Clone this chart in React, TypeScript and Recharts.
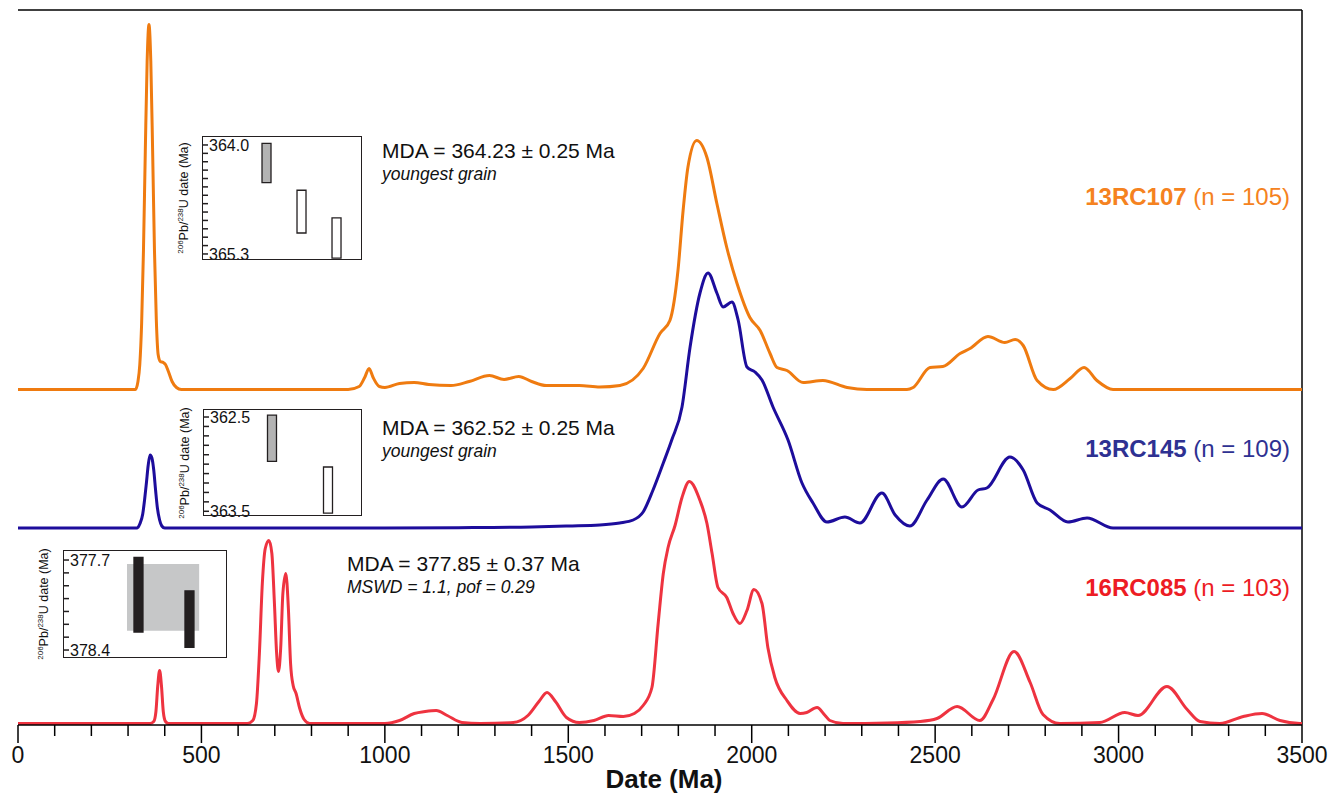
import { Bar, Cell, ComposedChart, Line, ReferenceArea, ReferenceLine, XAxis, YAxis } from "recharts";

// probability density curves: [date (Ma), relative density]
const sample13RC107: [number, number][] = [
  [0, 0], [300, 0], [320, 0], [327, 8], [332, 25], [337, 66], [342, 139], [347, 238], [352, 328], [357, 365], [362, 328],
  [367, 238], [372, 139], [377, 70], [382, 35], [388, 28], [396, 27], [402, 25], [410, 18], [420, 8], [432, 2], [445, 0],
  [900, 0], [930, 3], [945, 12], [957, 21], [968, 12], [985, 3], [1000, 2], [1040, 6], [1080, 7], [1120, 5], [1180, 4],
  [1230, 8], [1285, 14], [1325, 10], [1365, 13], [1400, 8], [1440, 4], [1480, 4], [1530, 4], [1586, 2.5], [1641, 4],
  [1704, 21], [1750, 56], [1777, 69], [1799, 119], [1813, 179], [1826, 222], [1850, 249], [1878, 232], [1905, 186],
  [1932, 142], [1960, 106], [1995, 72], [2023, 59], [2050, 36], [2069, 22], [2096, 19], [2140, 7], [2194, 9], [2260, 2],
  [2314, 0], [2423, 0], [2440, 2], [2486, 22], [2521, 23], [2568, 36], [2595, 41], [2644, 53], [2690, 47], [2718, 50],
  [2740, 44], [2778, 9], [2822, 0], [2868, 11], [2906, 22], [2941, 9], [2985, 0], [3500, 0],
];

const sample13RC145: [number, number][] = [
  [0, 0], [325, 0], [332, 4], [340, 14], [345, 28], [350, 45], [355, 63], [360, 73], [365, 70], [370, 58], [375, 38],
  [380, 20], [386, 8], [392, 2], [400, 0], [1000, 0], [1200, 0.3], [1400, 1], [1500, 2], [1586, 3], [1640, 5], [1677, 8],
  [1704, 16], [1731, 38], [1759, 65], [1782, 88], [1810, 121], [1832, 181], [1859, 235], [1881, 255], [1905, 235],
  [1922, 221], [1946, 226], [1963, 208], [1987, 161], [2009, 156], [2028, 148], [2058, 121], [2099, 88], [2137, 45],
  [2167, 25], [2205, 6], [2254, 11], [2295, 5], [2355, 35], [2391, 13], [2431, 2], [2478, 28], [2522, 49], [2573, 21],
  [2617, 38], [2641, 40], [2704, 71], [2740, 58], [2778, 25], [2813, 18], [2862, 6], [2914, 10], [2985, 0], [3500, 0],
];

const sample16RC085: [number, number][] = [
  [0, 0], [360, 0], [370, 2], [376, 12], [381, 38], [386, 53], [391, 38], [396, 12], [402, 2], [410, 0], [625, 0],
  [640, 3], [650, 20], [658, 70], [666, 140], [674, 175], [684, 183], [692, 170], [699, 120], [705, 70], [710, 52],
  [716, 75], [722, 130], [730, 150], [737, 115], [743, 60], [750, 38], [758, 30], [768, 15], [780, 4], [795, 0],
  [1000, 0], [1040, 3], [1080, 10], [1110, 12], [1140, 13], [1170, 8], [1210, 1], [1260, 0], [1350, 1], [1390, 8],
  [1420, 22], [1442, 31], [1465, 22], [1495, 6], [1530, 1], [1570, 3], [1610, 8], [1650, 7], [1680, 10], [1704, 18],
  [1728, 36], [1745, 100], [1759, 150], [1772, 176], [1791, 198], [1810, 226], [1830, 242], [1859, 223], [1878, 200],
  [1892, 170], [1908, 136], [1932, 126], [1949, 110], [1968, 100], [1987, 113], [2006, 134], [2028, 120], [2044, 76],
  [2063, 46], [2096, 23], [2132, 10], [2150, 11], [2178, 16], [2200, 8], [2213, 3], [2249, 0], [2369, 0.5], [2459, 2],
  [2505, 5], [2560, 17], [2622, 3], [2658, 24], [2715, 72], [2759, 41], [2794, 9], [2840, 0], [2949, 1], [3017, 11],
  [3053, 8], [3132, 37], [3187, 14], [3222, 2], [3276, 0], [3340, 7], [3391, 10], [3440, 3], [3495, 0], [3500, 0],
];

// youngest grains shown in the insets: [rank, young edge, old edge]
const grains13RC107: [number, number, number][] = [[1, 363.98, 364.45], [2, 364.54, 365.05], [3, 364.87, 365.35]];
const grains13RC145: [number, number, number][] = [[1, 362.48, 362.97], [2, 363.03, 363.52]];
const grains16RC085: [number, number, number][] = [[1, 377.68, 378.26], [2, 377.94, 378.38]];

const ticks13RC107 = [364.0, 364.1, 364.2, 364.3, 364.4, 364.5, 364.6, 364.7, 364.8, 364.9, 365.0, 365.1, 365.2, 365.3];
const ticks13RC145 = [362.5, 362.6, 362.7, 362.8, 362.9, 363.0, 363.1, 363.2, 363.3, 363.4, 363.5];
const ticks16RC085 = [377.7, 377.8, 377.9, 378.0, 378.1, 378.2, 378.3, 378.4];
const weightedMean16RC085 = [377.73, 378.25];

const ageTicks = Array.from({ length: 36 }, (_, i) => i * 100);

const font = '"Liberation Sans", Arial, Helvetica, sans-serif';
const ORANGE = "#ef7b10";
const BLUE = "#1d0d9c";
const RED = "#ee3340";

const stack = (pts: [number, number][], base: number) => pts.map(([ma, d]) => ({ ma, y: d + base }));

const AgeTick = ({ x, y, payload }: any) => {
  const major = payload.value % 500 === 0;
  return (
    <g>
      <line x1={x} x2={x} y1={y} y2={y + (major ? 18 : 11)} stroke="#000" strokeWidth={1.5} />
      {major && <text x={x} y={y + 38} textAnchor="middle" fontSize={23} fontFamily={font} fill="#111">{payload.value}</text>}
    </g>
  );
};

type InsetProps = {
  left: number; top: number; width: number; height: number; labelX: number;
  grains: [number, number, number][]; xDomain: [number, number]; yDomain: [number, number];
  ticks: number[]; fills: string[]; band?: number[]; bandX?: [number, number];
};

const Inset = ({ left, top, width, height, labelX, grains, xDomain, yDomain, ticks, fills, band, bandX }: InsetProps) => {
  const rows = grains.map(([rank, young, old]) => ({ rank, range: [old, young] }));
  const ends = [ticks[0], ticks[ticks.length - 1]];
  return (
    <>
      <div style={{ position: "absolute", left, top, width, height }}>
        <ComposedChart width={width} height={height} data={rows} margin={{ top: 0, right: 0, bottom: 0, left: 0 }}>
          <XAxis type="number" dataKey="rank" domain={xDomain} allowDataOverflow hide />
          <YAxis type="number" domain={yDomain} reversed allowDataOverflow mirror ticks={ticks} interval={0}
            axisLine={false} tickSize={6} tickMargin={1} tickLine={{ stroke: "#231f20", strokeWidth: 1.5 }}
            tick={{ fontSize: 16, fill: "#111", fontFamily: font }}
            tickFormatter={(v: number) => (ends.includes(v) ? v.toFixed(1) : "")} />
          {band && bandX && <ReferenceArea x1={bandX[0]} x2={bandX[1]} y1={band[0]} y2={band[1]} fill="#c6c7c8" fillOpacity={1} stroke="none" />}
          <Bar dataKey="range" barSize={9} stroke="#231f20" strokeWidth={1.3} isAnimationActive={false}>
            {rows.map((r, i) => <Cell key={r.rank} fill={fills[i]} />)}
          </Bar>
        </ComposedChart>
        <div style={{ position: "absolute", inset: 0, border: "1.5px solid #231f20", pointerEvents: "none" }} />
      </div>
      <div style={{ position: "absolute", left: labelX, top: top + height / 2, transform: "translate(-50%, -50%) rotate(-90deg)", whiteSpace: "nowrap", fontSize: 12.5, fontFamily: font, color: "#111", lineHeight: 1 }}>
        <sup style={{ fontSize: 8 }}>206</sup>Pb/<sup style={{ fontSize: 8 }}>238</sup>U date (Ma)
      </div>
    </>
  );
};

const Note = ({ left, top, main, sub, size = 21, subSize = 17.5 }: { left: number; top: number; main: string; sub: string; size?: number; subSize?: number }) => (
  <div style={{ position: "absolute", left, top, fontFamily: font, color: "#111", whiteSpace: "nowrap" }}>
    <div style={{ fontSize: size, lineHeight: 1 }}>{main}</div>
    <div style={{ fontSize: subSize, lineHeight: 1, fontStyle: "italic", marginTop: 5 }}>{sub}</div>
  </div>
);

const SampleLabel = ({ top, name, n, color }: { top: number; name: string; n: number; color: string }) => (
  <div style={{ position: "absolute", right: 1333 - 1290, top, fontFamily: font, fontSize: 24, lineHeight: 1, color, whiteSpace: "nowrap" }}>
    <b>{name}</b> (n = {n})
  </div>
);

export default function App() {
  return (
    <div style={{ position: "absolute", left: 0, top: 0, width: 1333, height: 798, background: "#fff", fontFamily: font }}>
      <style>{`.recharts-surface { overflow: visible; }`}</style>
      <ComposedChart width={1333} height={798} margin={{ top: 10, right: 31, bottom: 0, left: 18 }}>
        <XAxis type="number" dataKey="ma" domain={[0, 3500]} ticks={ageTicks} interval={0} height={73}
          axisLine={{ stroke: "#000", strokeWidth: 1.5 }} tickLine={false} tickSize={0} tickMargin={0} tick={<AgeTick />} />
        <YAxis type="number" domain={[0, 715]} hide />
        <ReferenceLine y={715} stroke="#000" strokeWidth={1.5} />
        <ReferenceLine x={3500} stroke="#000" strokeWidth={1.5} />
        <Line data={stack(sample13RC107, 335.5)} dataKey="y" type="monotone" stroke={ORANGE} strokeWidth={3} dot={false} isAnimationActive={false} />
        <Line data={stack(sample13RC145, 197)} dataKey="y" type="monotone" stroke={BLUE} strokeWidth={3} dot={false} isAnimationActive={false} />
        <Line data={stack(sample16RC085, 1.5)} dataKey="y" type="monotone" stroke={RED} strokeWidth={3} dot={false} isAnimationActive={false} />
      </ComposedChart>

      <Inset left={202} top={136} width={160} height={124} labelX={184} grains={grains13RC107} xDomain={[-0.843, 3.728]}
        yDomain={[363.893, 365.372]} ticks={ticks13RC107} fills={["#b3b3b3", "#fff", "#fff"]} />
      <Inset left={203} top={409} width={159} height={107} labelX={185} grains={grains13RC145} xDomain={[-0.223, 2.616]}
        yDomain={[362.415, 363.55]} ticks={ticks13RC145} fills={["#b3b3b3", "#fff"]} />
      <Inset left={63} top={550} width={164} height={108} labelX={44} grains={grains16RC085} xDomain={[-0.48, 2.736]}
        yDomain={[377.622, 378.462]} ticks={ticks16RC085} fills={["#231f20", "#231f20"]} band={weightedMean16RC085} bandX={[0.775, 2.19]} />

      <Note left={382} top={140} main="MDA = 364.23 ± 0.25 Ma" sub="youngest grain" />
      <Note left={382} top={417} main="MDA = 362.52 ± 0.25 Ma" sub="youngest grain" />
      <Note left={347} top={553} main="MDA = 377.85 ± 0.37 Ma" sub="MSWD = 1.1, pof = 0.29" />

      <SampleLabel top={185} name="13RC107" n={105} color="#f58220" />
      <SampleLabel top={437} name="13RC145" n={109} color="#2e3192" />
      <SampleLabel top={576} name="16RC085" n={103} color="#ed1c24" />

      <div style={{ position: "absolute", left: 664, top: 766, transform: "translateX(-50%)", fontSize: 26, fontWeight: "bold", lineHeight: 1, color: "#111", whiteSpace: "nowrap" }}>
        Date (Ma)
      </div>
    </div>
  );
}
